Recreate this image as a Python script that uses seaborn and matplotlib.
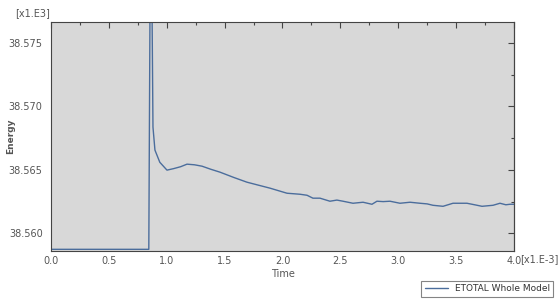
import matplotlib
matplotlib.use("Agg")
import matplotlib.pyplot as plt
import matplotlib.ticker as mticker
import numpy as np
import pandas as pd
import seaborn as sb

# time in [x1.E-3], energy in [x1.E3]
time = [0.0, 0.2, 0.4, 0.6, 0.8, 0.845, 0.862, 0.881, 0.898, 0.94, 1.002, 1.06,
        1.12, 1.175, 1.24, 1.305, 1.38, 1.46, 1.58, 1.693, 1.79, 1.892, 2.039,
        2.151, 2.212, 2.263, 2.324, 2.41, 2.47, 2.523, 2.609, 2.696, 2.773,
        2.816, 2.87, 2.929, 3.015, 3.102, 3.188, 3.25, 3.3, 3.387, 3.473,
        3.594, 3.66, 3.724, 3.819, 3.879, 3.93, 3.965, 4.0]
energy = [38.55874, 38.55874, 38.55874, 38.55874, 38.55874, 38.55874, 38.5900,
          38.56837, 38.56656, 38.56560, 38.56498, 38.56510, 38.56525, 38.56545,
          38.56540, 38.56529, 38.56505, 38.56482, 38.56440, 38.56403, 38.56380,
          38.56356, 38.56316, 38.56308, 38.56300, 38.56277, 38.56277, 38.56253,
          38.56262, 38.56253, 38.56237, 38.56245, 38.56229, 38.56253, 38.56250,
          38.56253, 38.56237, 38.56245, 38.56237, 38.56232, 38.56221, 38.56213,
          38.56237, 38.56237, 38.56225, 38.56213, 38.56221, 38.56237, 38.56225,
          38.56229, 38.56229]
series_name = "ETOTAL Whole Model"

df = pd.DataFrame({"Time": time, "Energy": energy})

sb.set_style("white", {"axes.facecolor": "#d8d8d8"})
plt.rcParams["font.family"] = ["DejaVu Sans"]
txt = "#555555"
tk = "#444444"

fig = plt.figure(figsize=(5.58, 3.0), dpi=100)
ax = fig.add_axes([0.0914, 0.163, 0.8297, 0.764])
sb.lineplot(data=df, x="Time", y="Energy", ax=ax, color="#4b6d9c",
            linewidth=1.0, label=series_name, legend=False)

ax.set_xlim(0.0, 4.0)
ax.set_ylim(38.5586, 38.57666)
ax.xaxis.set_major_locator(mticker.MultipleLocator(0.5))
ax.xaxis.set_minor_locator(mticker.MultipleLocator(0.25))
ax.yaxis.set_major_locator(mticker.MultipleLocator(0.005))
ax.yaxis.set_minor_locator(mticker.MultipleLocator(0.0025))
ax.xaxis.set_major_formatter(mticker.FormatStrFormatter("%.1f"))
ax.yaxis.set_major_formatter(mticker.FormatStrFormatter("%.3f"))

ax.tick_params(axis="both", which="both", colors=tk, labelcolor=txt,
               labelsize=7, width=0.8)
ax.tick_params(axis="x", which="major", direction="in", length=4, top=True)
ax.tick_params(axis="x", which="minor", direction="in", length=2, top=True)
ax.tick_params(axis="y", which="major", direction="out", length=4, pad=2)
ax.tick_params(axis="y", which="minor", direction="in", length=2)

# right side: inward ticks, no labels
sec = ax.secondary_yaxis("right")
sec.yaxis.set_major_locator(mticker.MultipleLocator(0.005))
sec.yaxis.set_minor_locator(mticker.MultipleLocator(0.0025))
sec.tick_params(which="major", direction="in", length=4, width=0.8, colors=tk,
                labelright=False)
sec.tick_params(which="minor", direction="in", length=2, width=0.8, colors=tk)
sec.spines["right"].set_color(tk)
sec.spines["right"].set_linewidth(0.8)

for s in ax.spines.values():
    s.set_color(tk)
    s.set_linewidth(0.8)

ax.set_xlabel("Time", fontsize=7, color=txt, labelpad=2)
ax.set_ylabel("Energy", fontsize=6.5, color=txt, fontweight="bold")
ax.yaxis.set_label_coords(-0.078, 0.5)
fig.text(0.028, 0.955, "[x1.E3]", fontsize=7, color=txt, va="center")
fig.text(0.932, 0.138, "[x1.E-3]", fontsize=7, color=txt, va="center")

handles, labels = ax.get_legend_handles_labels()
leg = fig.legend(handles, labels, loc="lower right", bbox_to_anchor=(1.0, -0.005),
                 fontsize=6.5, frameon=True, fancybox=False, borderpad=0.4,
                 handlelength=2.5, labelcolor="#333333")
leg.get_frame().set_edgecolor("#666666")
leg.get_frame().set_facecolor("white")
leg.get_frame().set_linewidth(0.8)

fig.savefig("out.png", dpi=100)
